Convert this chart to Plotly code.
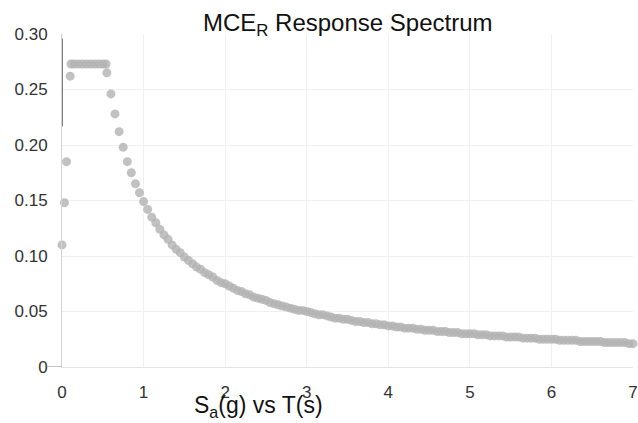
import plotly.graph_objects as go

# Period T (s) and spectral acceleration Sa (g)
rise_T = [0.0, 0.03, 0.055, 0.1]
rise_Sa = [0.110, 0.148, 0.185, 0.262]

plateau_T = [0.11, 0.15, 0.20, 0.25, 0.30, 0.35, 0.40, 0.45, 0.50, 0.54]
plateau_Sa = [0.273, 0.273, 0.273, 0.273, 0.273, 0.273, 0.273, 0.273, 0.273, 0.273]

decay_T = [0.55, 0.60, 0.65, 0.70, 0.75, 0.80, 0.85, 0.90, 0.95, 1.00,
           1.05, 1.10, 1.15, 1.20, 1.25, 1.30, 1.35, 1.40, 1.45, 1.50,
           1.55, 1.60, 1.65, 1.70, 1.75, 1.80, 1.85, 1.90, 1.95, 2.00,
           2.05, 2.10, 2.15, 2.20, 2.25, 2.30, 2.35, 2.40, 2.45, 2.50,
           2.55, 2.60, 2.65, 2.70, 2.75, 2.80, 2.85, 2.90, 2.95, 3.00,
           3.05, 3.10, 3.15, 3.20, 3.25, 3.30, 3.35, 3.40, 3.45, 3.50,
           3.55, 3.60, 3.65, 3.70, 3.75, 3.80, 3.85, 3.90, 3.95, 4.00,
           4.05, 4.10, 4.15, 4.20, 4.25, 4.30, 4.35, 4.40, 4.45, 4.50,
           4.55, 4.60, 4.65, 4.70, 4.75, 4.80, 4.85, 4.90, 4.95, 5.00,
           5.05, 5.10, 5.15, 5.20, 5.25, 5.30, 5.35, 5.40, 5.45, 5.50,
           5.55, 5.60, 5.65, 5.70, 5.75, 5.80, 5.85, 5.90, 5.95, 6.00,
           6.05, 6.10, 6.15, 6.20, 6.25, 6.30, 6.35, 6.40, 6.45, 6.50,
           6.55, 6.60, 6.65, 6.70, 6.75, 6.80, 6.85, 6.90, 6.95, 7.00]
decay_Sa = [0.265, 0.246, 0.228, 0.212, 0.198, 0.185, 0.175, 0.165, 0.157, 0.149,
            0.142, 0.135, 0.130, 0.124, 0.119, 0.115, 0.110, 0.106, 0.103, 0.099,
            0.096, 0.093, 0.090, 0.088, 0.085, 0.083, 0.081, 0.078, 0.076, 0.075,
            0.073, 0.071, 0.069, 0.068, 0.066, 0.065, 0.063, 0.062, 0.061, 0.060,
            0.058, 0.057, 0.056, 0.055, 0.054, 0.053, 0.052, 0.051, 0.051, 0.050,
            0.049, 0.048, 0.047, 0.047, 0.046, 0.045, 0.044, 0.044, 0.043, 0.043,
            0.042, 0.041, 0.041, 0.040, 0.040, 0.039, 0.039, 0.038, 0.038, 0.037,
            0.037, 0.036, 0.036, 0.035, 0.035, 0.035, 0.034, 0.034, 0.033, 0.033,
            0.033, 0.032, 0.032, 0.032, 0.031, 0.031, 0.031, 0.030, 0.030, 0.030,
            0.030, 0.029, 0.029, 0.029, 0.028, 0.028, 0.028, 0.028, 0.027, 0.027,
            0.027, 0.027, 0.026, 0.026, 0.026, 0.026, 0.025, 0.025, 0.025, 0.025,
            0.025, 0.024, 0.024, 0.024, 0.024, 0.024, 0.023, 0.023, 0.023, 0.023,
            0.023, 0.023, 0.022, 0.022, 0.022, 0.022, 0.022, 0.022, 0.021, 0.021]

x_ticks = [0, 1, 2, 3, 4, 5, 6, 7]
y_ticks = [0, 0.05, 0.10, 0.15, 0.20, 0.25, 0.30]
y_tick_text = ["0", "0.05", "0.10", "0.15", "0.20", "0.25", "0.30"]

T_all = rise_T + plateau_T + decay_T
Sa_all = rise_Sa + plateau_Sa + decay_Sa

FONT = "Liberation Sans, Arial, sans-serif"

fig = go.Figure()
fig.add_trace(go.Scatter(
    x=T_all, y=Sa_all, mode="markers",
    marker=dict(size=9, color="rgba(178,178,178,0.8)", line=dict(width=0)),
    cliponaxis=False, showlegend=False,
))

fig.update_layout(
    width=638, height=423,
    margin=dict(l=62, r=5, t=34, b=56, autoexpand=False),
    paper_bgcolor="white", plot_bgcolor="white",
    font=dict(family=FONT, size=17, color="#333"),
    title=dict(text="MCE<sub>R</sub> Response Spectrum",
               x=0.545, xanchor="center", y=0.946, yanchor="middle",
               xref="container", yref="container",
               font=dict(family=FONT, size=24, color="#111")),
    showlegend=False,
)
fig.update_xaxes(
    range=[0, 7], tickvals=x_ticks, ticktext=[str(v) for v in x_ticks],
    showgrid=True, gridcolor="#f0f0f0", zeroline=False, automargin=False,
    showline=True, linecolor="#e4e4e4", linewidth=1,
    ticks="outside", ticklen=10, tickcolor="rgba(0,0,0,0)",
    tickfont=dict(family=FONT, size=17, color="#333"),
)
fig.update_yaxes(
    range=[0, 0.30], tickvals=y_ticks, ticktext=y_tick_text,
    showgrid=True, gridcolor="#f0f0f0", zeroline=False, automargin=False,
    showline=True, linecolor="#d4d4d4", linewidth=1,
    ticks="outside", ticklen=10, tickcolor="rgba(0,0,0,0)",
    tickfont=dict(family=FONT, size=17, color="#333"),
)
# darker segment along the y axis, as in the reference
fig.add_shape(type="line", xref="x", yref="y", x0=0, x1=0, y0=0.217, y1=0.296,
              line=dict(color="#555", width=1.5))
# small dash at zero on y axis
fig.add_shape(type="line", xref="paper", yref="y", x0=-0.03, x1=0, y0=0, y1=0,
              line=dict(color="#888", width=1))
fig.add_annotation(
    text="S<sub>a</sub>(g) vs T(s)", xref="paper", yref="paper",
    x=0.345, y=-0.12, xanchor="center", yanchor="middle", showarrow=False,
    font=dict(family=FONT, size=23, color="#111"),
)

fig.write_html("out.html")
